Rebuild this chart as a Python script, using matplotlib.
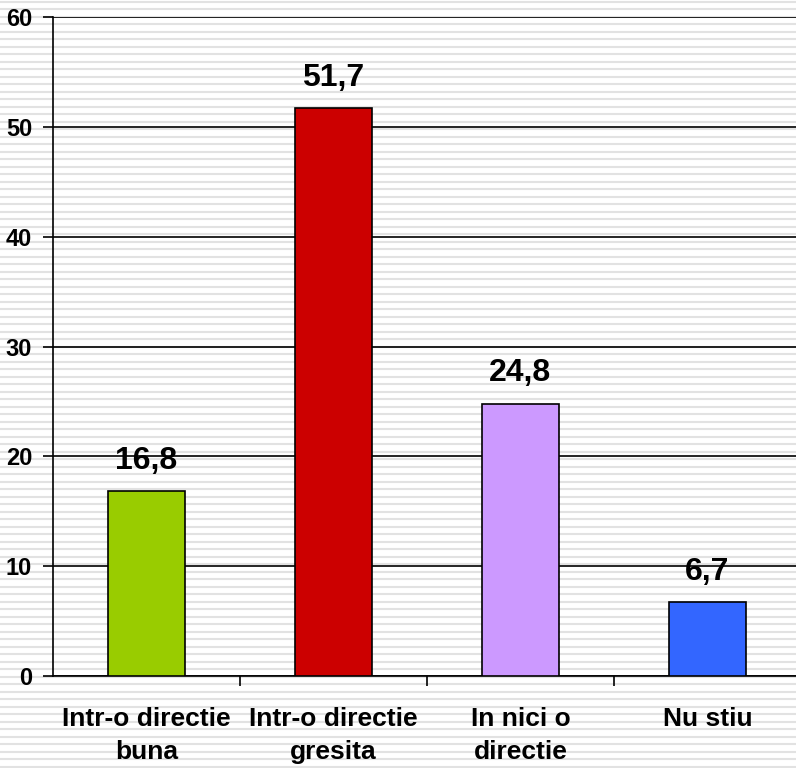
import numpy as np
import matplotlib.pyplot as plt

plt.rcParams["font.family"] = ["Liberation Sans", "DejaVu Sans"]
plt.rcParams["font.weight"] = "bold"

categorii = ["Intr-o directie\nbuna", "Intr-o directie\ngresita", "In nici o\ndirectie", "Nu stiu"]
valori = [16.8, 51.7, 24.8, 6.7]
etichete = ["16,8", "51,7", "24,8", "6,7"]
culori = ["#99cc00", "#cc0000", "#cc99ff", "#3366ff"]
y_ticks = [0, 10, 20, 30, 40, 50, 60]

W, H = 796, 768
fig = plt.figure(figsize=(W / 100, H / 100), dpi=100)

# fundal cu dungi orizontale
bg = fig.add_axes([0, 0, 1, 1])
bg.set_xlim(0, W)
bg.set_ylim(H, 0)
bg.axis("off")
for y in np.arange(1.5, H, 7.5):
    bg.axhline(y, color="#e2e2e2", lw=1.5)

ax = fig.add_axes([53 / W, 1 - 676 / H, (801 - 53) / W, (676 - 17) / H])
ax.patch.set_alpha(0)

x = np.arange(len(categorii))
bare = ax.bar(x, valori, width=0.41, color=culori, edgecolor="black", linewidth=1.2, zorder=3)

for b, txt in zip(bare, etichete):
    ax.annotate(txt, (b.get_x() + b.get_width() / 2, b.get_height()),
                xytext=(0, 11), textcoords="offset points",
                ha="center", va="bottom", fontsize=23, fontweight="bold")

ax.set_xlim(-0.5, len(categorii) - 0.5)
ax.set_ylim(0, 60)
ax.set_yticks(y_ticks)
ax.yaxis.grid(True, color="black", lw=1.2, zorder=1)
ax.set_axisbelow(True)

ax.set_xticks(x)
ax.set_xticklabels(categorii, fontsize=19, fontweight="bold", linespacing=1.5)
ax.tick_params(axis="x", length=0, pad=22)
ax.set_xticks(np.arange(0.5, len(categorii) - 0.5), minor=True)
ax.tick_params(axis="x", which="minor", length=7, width=1.2, direction="out")
ax.tick_params(axis="y", length=7, width=1.2, pad=8, labelsize=17)
for lbl in ax.get_yticklabels():
    lbl.set_fontweight("bold")

ax.spines["top"].set_visible(False)
ax.spines["right"].set_visible(False)
ax.spines["left"].set_linewidth(1.2)
ax.spines["bottom"].set_linewidth(1.2)

fig.savefig("out.png", dpi=100)
